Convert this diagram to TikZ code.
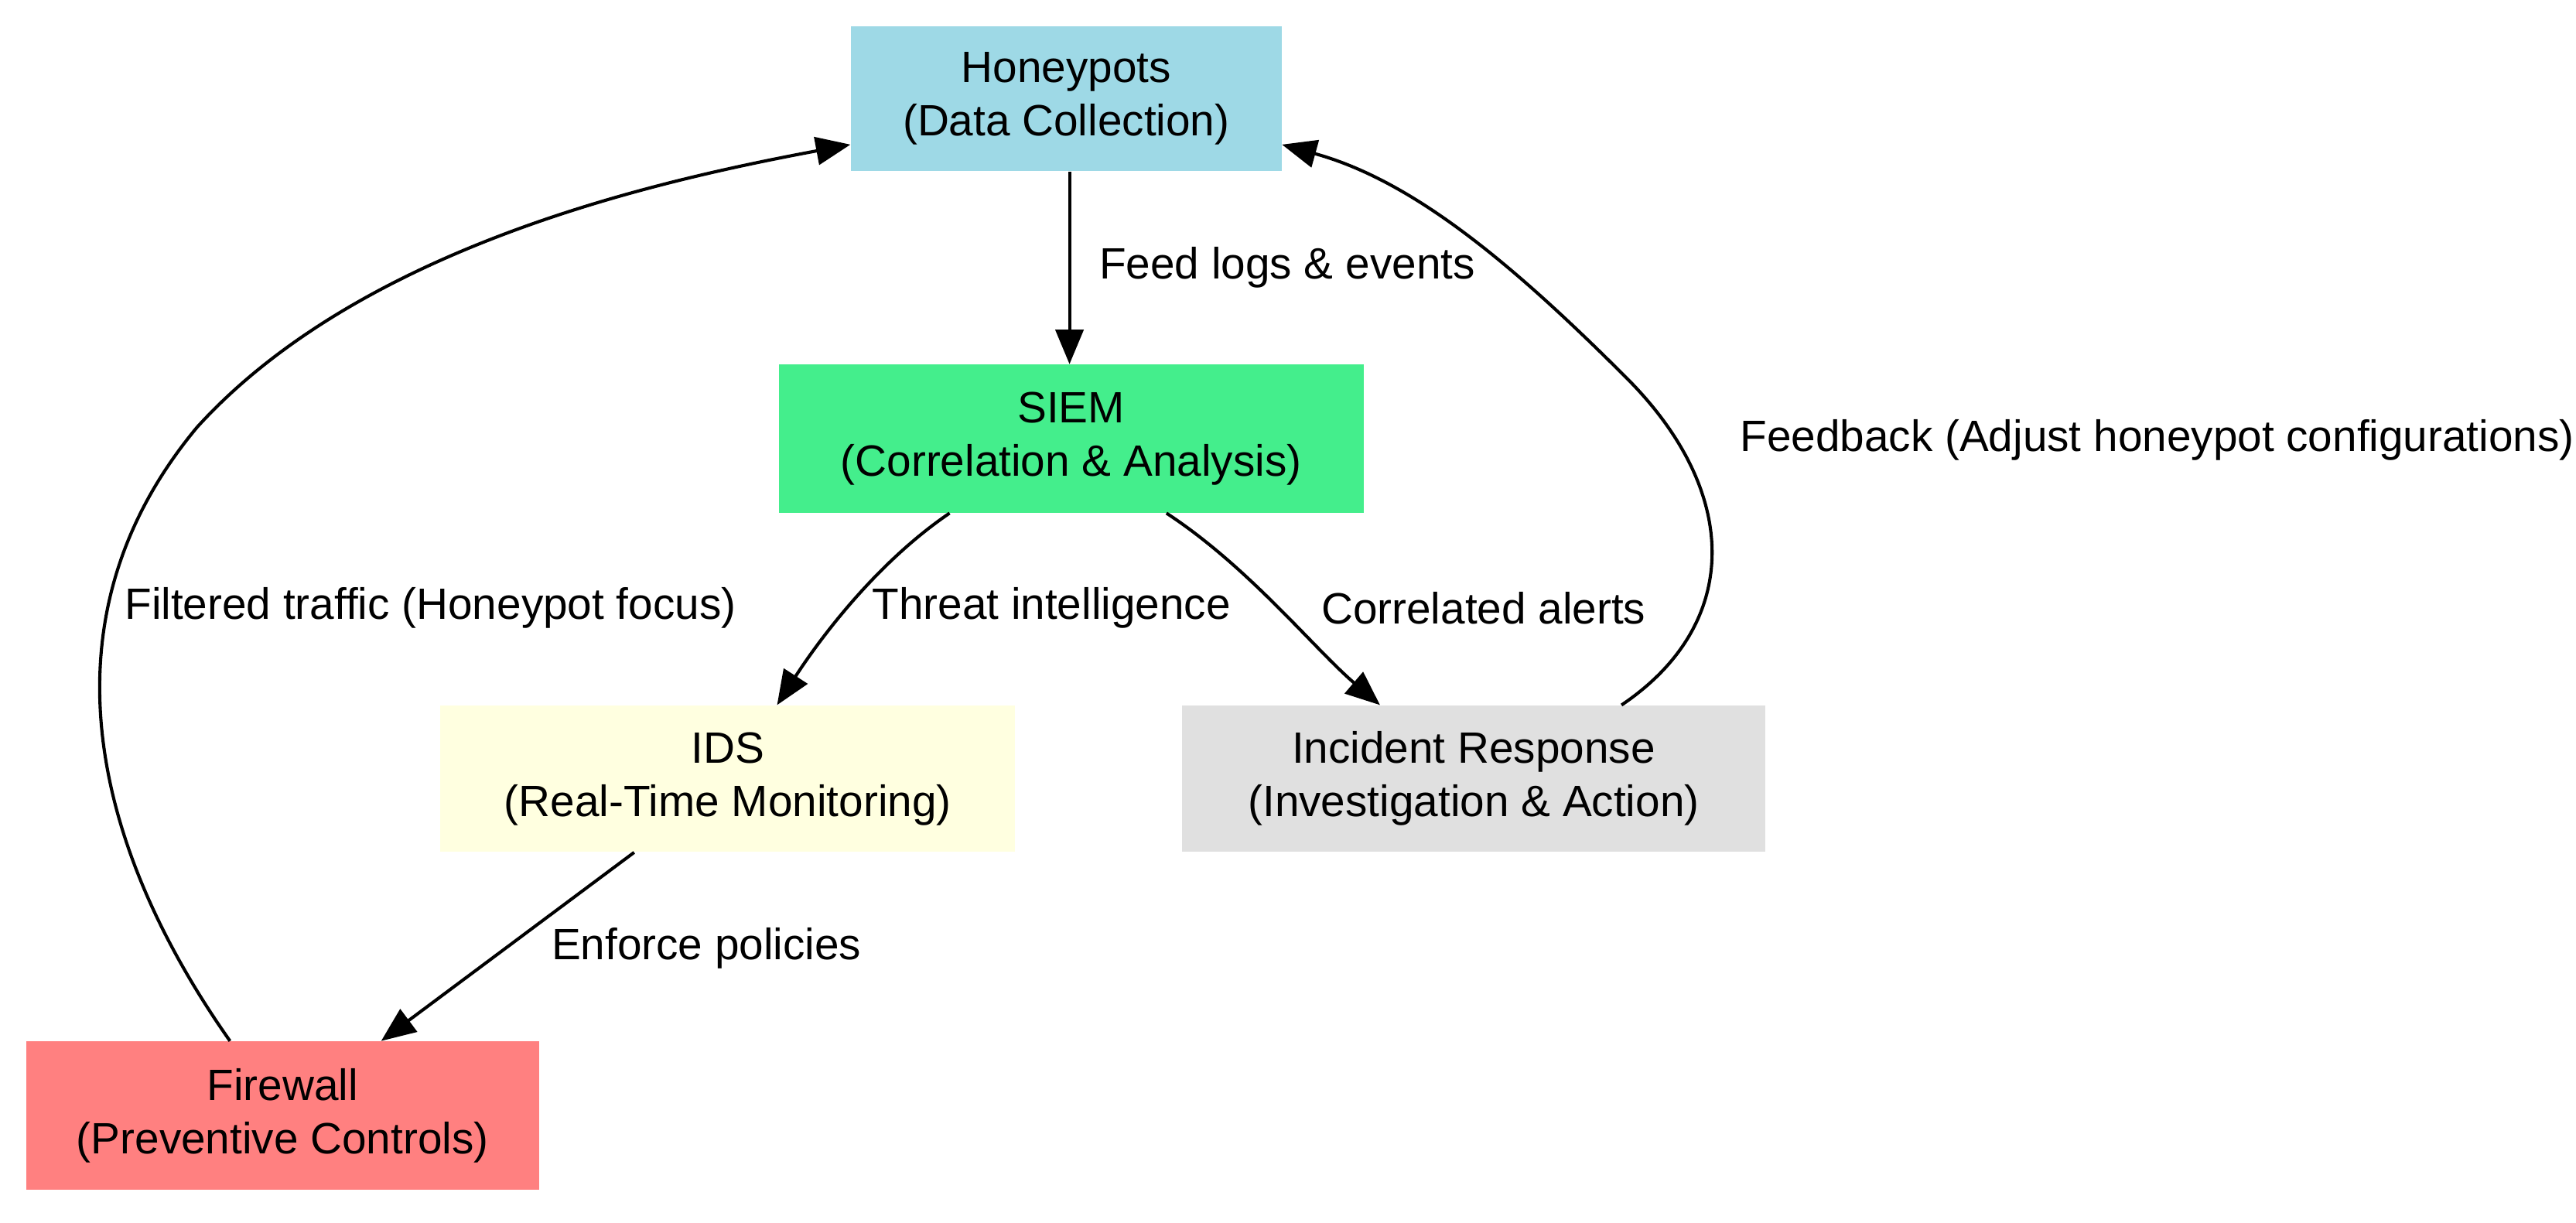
\documentclass[tikz,border=0pt]{standalone}
\usepackage{fontspec}
\setmainfont{Liberation Sans}
\usetikzlibrary{arrows.meta,positioning,calc}
\definecolor{hpblue}{HTML}{9ED9E6}
\definecolor{siemgreen}{HTML}{44EE8C}
\definecolor{idsyellow}{HTML}{FFFFE0}
\definecolor{irgray}{HTML}{E0E0E0}
\definecolor{fwred}{HTML}{FF8080}

\begin{document}
\begin{tikzpicture}[
  x=0.02cm, y=-0.02cm,
  >={Triangle[length=4.2mm, width=3.4mm]},
  box/.style={draw=none, align=center, inner sep=0pt, font=\fontsize{15.2}{18.5}\selectfont},
  lab/.style={font=\fontsize{15.2}{18.5}\selectfont},
  flow/.style={->, line width=1.1pt}
]
\useasboundingbox (0,0) rectangle (1568,744);

\node[box, fill=hpblue, minimum width=262*0.02cm, minimum height=88*0.02cm] (hp) at (649,60) {Honeypots\\(Data Collection)};
\node[box, fill=siemgreen, minimum width=356*0.02cm, minimum height=90*0.02cm] (siem) at (652,267) {SIEM\\(Correlation \& Analysis)};
\node[box, fill=idsyellow, minimum width=350*0.02cm, minimum height=89*0.02cm] (ids) at (443,474) {IDS\\(Real-Time Monitoring)};
\node[box, fill=irgray, minimum width=355*0.02cm, minimum height=89*0.02cm] (ir) at (897,474) {Incident Response\\(Investigation \& Action)};
\node[box, fill=fwred, minimum width=312*0.02cm, minimum height=90*0.02cm] (fw) at (172,679) {Firewall\\(Preventive Controls)};

% data flow
\draw[flow] ($(hp.south)+(2,0)$) -- ($(siem.north)+(-1,0)$);
\node[lab, anchor=west] at (663,163) {Feed logs \& events};

\draw[flow] ($(siem.south)+(-74,0)$) .. controls (530,345) and (495,395) .. ($(ids.north)+(30,0)$);
\node[lab] at (640,370) {Threat intelligence};

\draw[flow] ($(siem.south)+(58,0)$) .. controls (760,345) and (800,395) .. ($(ir.north)+(-57,0)$);
\node[lab] at (903,370) {Correlated alerts};

\draw[flow] ($(ids.south)+(-57,0)$) -- ($(fw.north)+(60,0)$);
\node[lab] at (430,577) {Enforce policies};

% feedback loops
\draw[flow] ($(fw.north)+(-32,0)$) .. controls (60,520) and (20,380) .. (120,260)
  .. controls (220,150) and (400,110) .. ($(hp.west)+(0,28)$);
\node[lab] at (262,370) {Filtered traffic (Honeypot focus)};

\draw[flow] ($(ir.north)+(90,0)$) .. controls (1060,380) and (1060,300) .. (990,230)
  .. controls (920,160) and (860,110) .. ($(hp.east)+(0,28)$);
\node[lab, anchor=west] at (1053,268) {Feedback (Adjust honeypot configurations)};
\end{tikzpicture}
\end{document}
